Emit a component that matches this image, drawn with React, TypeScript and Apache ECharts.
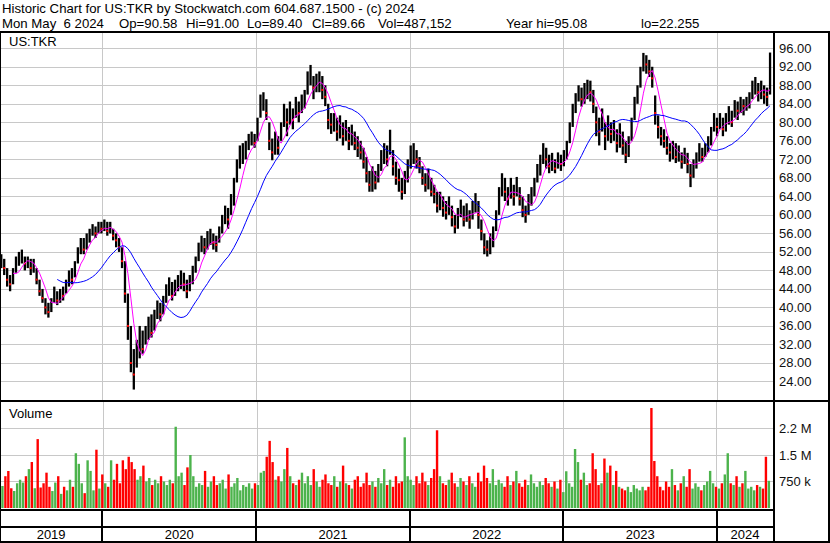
import React, { useEffect, useRef } from 'react';
import * as echarts from 'echarts';

// ---- texts ----
const TITLE_1 = 'Historic Chart for US:TKR by Stockwatch.com 604.687.1500 - (c) 2024';
const TITLE_2_FIELDS = ['Mon May \u00a06 2024', 'Op=90.58', 'Hi=91.00', 'Lo=89.40', 'Cl=89.66', 'Vol=487,152', 'Year hi=95.08', 'lo=22.255'];
const SYMBOL = 'US:TKR';
const VOLUME_TITLE = 'Volume';

// ---- time frame ----
const FIRST_WEEK = '2019-05-06';
const AXIS_START = '2019-05-03';
const AXIS_END = '2024-05-13';
const yearLabels = ['2019', '2020', '2021', '2022', '2023', '2024'];
const yearBounds = ['2019-01-01', '2020-01-01', '2021-01-01', '2022-01-01', '2023-01-01', '2024-01-01', '2025-01-01'];
const volumeTickLabels: Record<number, string> = { 750: '750 k', 1500: '1.5 M', 2250: '2.2 M' };

// ---- weekly prices ----
const weeklyClose = [
  // 2019
  50.0, 48.5, 46.0, 45.0, 47.5, 49.5, 50.5, 51.0, 49.5, 50.0, 48.5, 49.0, 46.0, 43.5, 42.0, 40.0, 39.0, 41.0, 43.0, 41.5,
  43.0, 42.5, 44.5, 47.0, 46.0, 49.0, 51.5, 53.5, 52.5, 54.5, 55.5, 57.0, 56.0, 57.5,
  // 2020
  57.0, 58.0, 56.5, 57.5, 55.5, 54.5, 53.0, 50.0, 43.0, 36.0, 28.0, 25.5, 30.0, 33.5, 31.0, 34.0, 36.5, 34.5, 37.5, 40.0,
  38.5, 41.0, 43.5, 45.0, 42.5, 44.5, 45.5, 46.5, 45.0, 43.5, 45.5, 47.0, 49.5, 52.0, 54.0, 53.0, 54.5, 55.5, 54.0, 53.5,
  56.0, 58.0, 60.0, 59.0, 61.5, 66.0, 70.0, 72.0, 73.0, 74.0, 75.5, 76.5, 75.5,
  // 2021
  79.0, 84.0, 85.0, 82.0, 76.0, 73.5, 75.5, 74.5, 78.0, 81.5, 80.0, 82.5, 80.5, 83.0, 82.0, 84.5, 85.0, 88.5, 90.0, 87.5,
  88.5, 89.0, 87.0, 85.5, 80.5, 79.5, 80.5, 78.0, 79.0, 77.0, 78.5, 76.0, 77.0, 75.5, 74.5, 73.5, 71.5, 69.0, 66.5, 68.5,
  67.0, 69.5, 72.0, 73.5, 72.0, 76.0, 70.5, 68.0, 67.5, 65.0, 67.5, 70.0, 72.5,
  // 2022
  74.0, 72.0, 70.5, 68.0, 66.5, 67.5, 65.0, 64.5, 62.0, 63.0, 61.5, 60.5, 62.0, 59.5, 57.5, 60.0, 61.5, 59.0, 60.5, 59.0,
  61.0, 62.5, 60.0, 56.5, 53.0, 52.5, 54.0, 56.0, 59.0, 64.0, 66.5, 65.0, 63.5, 65.5, 64.0, 66.0, 63.5, 61.0, 60.0, 62.5,
  64.0, 66.0, 69.0, 71.0, 73.5, 72.0, 70.5, 71.5, 70.0, 72.0, 71.0, 72.5,
  // 2023
  74.5, 78.0, 82.0, 84.5, 86.5, 85.0, 86.0, 87.5, 86.5, 84.0, 80.0, 78.0, 80.5, 77.0, 79.0, 77.5, 78.5, 75.5, 77.0, 75.0,
  73.0, 75.0, 79.0, 83.5, 86.0, 90.0, 93.0, 92.5, 91.0, 89.5, 82.0, 79.0, 77.0, 76.0, 74.5, 73.5, 74.5, 72.5, 73.0, 71.5,
  73.0, 71.0, 68.5, 70.5, 72.0, 73.5, 72.5, 74.0, 75.5, 77.0, 80.0, 79.0,
  // 2024
  81.0, 78.5, 80.0, 81.5, 80.0, 83.0, 82.5, 84.0, 83.5, 84.0, 85.0, 87.0, 88.0, 86.5, 87.5, 86.0, 85.5, 89.66,
];

const weeklyHigh = [
  51.5, 50.5, 48.5, 47, 48.5, 51, 52, 52.5, 51, 51, 50.5, 50.5, 48.5, 46, 44, 42, 41, 42, 44.5, 43.5,
  44, 44.5, 46, 48, 48.5, 50, 53, 55, 55, 56, 57, 58, 57.5, 58.5,
  58.5, 59, 58.5, 58.5, 57, 56, 55, 53, 50, 43, 36, 31, 33, 36, 35, 36, 38, 38.5, 39.5, 41.5,
  41, 42.5, 45, 46.5, 45.5, 46, 47, 48, 47.5, 46, 47, 49, 51, 54, 55.5, 55, 56.5, 57, 56, 55.5,
  57.5, 60, 62, 61.5, 64.5, 68, 72, 75, 75.5, 76, 77.5, 78, 77.5,
  81, 86, 86.5, 85, 80, 76.5, 78, 77, 80, 84, 83, 84.5, 83, 85.5, 84.5, 86, 87, 91, 92.4, 90,
  90.5, 91, 90, 88, 84, 82, 82, 81, 81.5, 80, 80.5, 79, 79.5, 78, 77, 76, 74.5, 72.5, 69.5, 70.5,
  69.5, 71, 74, 75.5, 75, 78.4, 74, 71.5, 70, 68, 69.5, 72, 75,
  75.5, 74, 72.5, 70.5, 69, 70, 68, 66.5, 65, 65, 64, 63, 64, 62, 60, 61.5, 63.3, 62, 62.5, 61,
  63, 64.7, 63, 59, 56, 54.5, 56, 57.5, 61, 66, 69, 68, 66, 68, 66.5, 68.2, 66, 64, 62, 64.5,
  66, 68, 71, 73, 75.5, 74.5, 73, 73.4, 72, 73.5, 73, 74,
  76, 80, 84, 86.3, 88, 87.5, 88.5, 89.2, 89, 87, 83.4, 81, 83, 80, 81.5, 80, 80.5, 78.5, 79.8, 78,
  76, 77, 81, 85.5, 88, 92, 95, 94.5, 93.5, 92, 85.8, 81.5, 79, 78.5, 77, 75.5, 76, 75.5, 75, 73.5,
  74.5, 73.4, 71, 72, 73.5, 75.5, 74.5, 75.5, 77, 79, 82, 81,
  82, 81, 82, 83.5, 82.5, 84.8, 84.5, 85.5, 85, 85.5, 86.5, 89, 89.8, 88.5, 89, 88, 87.5, 95.08,
];

const weeklyLow = [
  48.5, 47, 44.5, 43.5, 45, 47.5, 49, 49.5, 48, 48.5, 47, 47.5, 45, 42.5, 41, 38.5, 37.8, 39, 41, 40.5,
  41, 41.5, 43, 44.5, 45, 46.5, 49.5, 51.5, 51.5, 52.5, 54, 55.5, 55, 56,
  56, 56.5, 55.5, 56, 54.5, 53, 52, 48.5, 41, 33, 26, 22.255, 27, 29, 30, 32, 33, 33.5, 35, 37.5,
  37, 38.5, 41, 42.5, 41.5, 42.5, 43.5, 44, 43.5, 42, 43.5, 45, 47.5, 50, 52, 51.5, 52.5, 53.5, 52.5, 52,
  54, 56, 58, 57, 60, 62, 67, 70, 71, 72, 74, 75, 74.5,
  76, 81, 82.5, 80.5, 74, 71.8, 73, 73, 76, 79, 77, 79.5, 78.5, 81, 80, 82, 83, 86, 88, 85,
  86.5, 86.5, 85, 83.5, 78.5, 77.5, 78, 76, 76.5, 75, 76, 74, 75, 74, 72.5, 72, 70, 67, 65, 65,
  65.5, 67, 69.5, 71, 70.5, 73, 68.5, 66.5, 65, 63.3, 64.5, 67, 70,
  71, 70, 69, 66.5, 65, 65.5, 64, 62.5, 60.5, 61, 59.6, 59, 60, 57.5, 56, 57, 59.5, 57.5, 58.5, 57,
  59, 60.5, 57, 54.5, 51.5, 51, 51.5, 53, 56.5, 60, 64, 63, 62, 63.5, 62, 64, 62, 59.5, 58.3, 60,
  62, 64, 67, 68.5, 71, 70, 69, 69.5, 69, 70, 69.5, 70.5,
  72, 75.5, 79, 82, 84.5, 83.4, 84, 85, 84.5, 82, 77, 75, 78, 74, 76, 75.5, 76, 73.5, 74.5, 73,
  71.2, 72.5, 76, 80.5, 84, 87.5, 91, 90.5, 89.8, 87.5, 79.5, 76.5, 75, 74.5, 73, 71.5, 72, 71.2, 71.5, 70,
  71, 69, 66, 68, 70, 71.5, 71.5, 72.5, 73.5, 75, 78, 77,
  78.5, 77, 78, 79.5, 79, 81, 80.5, 82, 81.5, 82.5, 83, 85, 86, 84.5, 85, 84, 83.5, 86,
];

// ---- weekly volume, thousands ----
const volume2019 = [620, 900, 1050, 560, 480, 700, 800, 720, 900, 1100, 1300, 560, 1950, 580, 700, 1000, 600, 480, 720, 900, 400, 600, 500, 800, 600, 1550, 1250, 700, 420, 1350, 1050, 500, 1650, 550];
const volume2020 = [950, 700, 600, 1350, 800, 1250, 700, 1350, 1100, 1450, 1300, 1100, 800, 900, 1200, 750, 850, 650, 800, 700, 900, 750, 650, 800, 700, 2300, 900, 1000, 650, 1150, 1500, 900, 600, 700, 650, 1050, 600, 750, 900, 650, 700, 800, 550, 950, 600, 700, 850, 500, 650, 600, 700, 550];
const volume2021 = [700, 650, 1000, 1050, 1450, 1900, 1300, 800, 900, 750, 1100, 1700, 900, 700, 650, 800, 1000, 700, 900, 650, 1100, 750, 600, 800, 950, 700, 650, 900, 600, 750, 1200, 700, 650, 550, 800, 900, 600, 700, 1000, 650, 750, 600, 850, 700, 1100, 650, 800, 600, 900, 700, 750, 2000, 900];
const volume2022 = [800, 650, 900, 700, 1000, 750, 650, 850, 1100, 2200, 900, 700, 650, 800, 1000, 700, 600, 850, 750, 650, 900, 700, 600, 1000, 750, 1200, 850, 700, 1100, 650, 800, 700, 600, 900, 650, 750, 1050, 700, 600, 800, 650, 950, 700, 600, 750, 650, 850, 700, 600, 750, 550, 800];
const volume2023 = [450, 1040, 700, 600, 1670, 1300, 800, 1000, 650, 700, 1550, 1100, 650, 700, 1400, 1000, 1200, 650, 1050, 600, 550, 500, 600, 450, 650, 550, 500, 600, 500, 600, 2830, 1330, 900, 600, 500, 750, 600, 1100, 650, 500, 700, 900, 600, 1100, 550, 700, 600, 500, 650, 750, 1050, 700];
const volume2024 = [600, 550, 700, 950, 1550, 700, 650, 900, 600, 700, 1050, 550, 600, 500, 650, 600, 550, 1450, 770];

const FONT = '"Liberation Sans", Arial, Helvetica, sans-serif';
const DAY = 86400000;
const ts = (s: string) => new Date(s + 'T00:00:00Z').getTime();

function sma(values: number[], n: number, dates: number[]) {
  const out: [number, number][] = [];
  for (let i = n - 1; i < values.length; i++) {
    let s = 0;
    for (let k = i - n + 1; k <= i; k++) s += values[k];
    out.push([dates[i], s / n]);
  }
  return out;
}

function buildOption() {
  const tMin = ts(AXIS_START);
  const tMax = ts(AXIS_END);
  const t0 = ts(FIRST_WEEK);
  const dates = weeklyClose.map((_, i) => t0 + i * 7 * DAY);
  const volumes = [...volume2019, ...volume2020, ...volume2021, ...volume2022, ...volume2023, ...volume2024];
  const bounds = yearBounds.map(ts);

  const ohlc = weeklyClose.map((c, i) => [dates[i], c, weeklyHigh[i], weeklyLow[i], i > 0 && c < weeklyClose[i - 1] ? 1 : 0]);
  const volData = volumes.map((v, i) => ({
    value: [dates[i], v],
    itemStyle: { color: i > 0 && weeklyClose[i] < weeklyClose[i - 1] ? '#ff0000' : '#4cb34c' },
  }));

  const gridLineSeries = (idx: number) => ({
    type: 'custom',
    xAxisIndex: idx,
    yAxisIndex: idx,
    silent: true,
    z: 1,
    clip: false,
    data: bounds.slice(1, 6).map((b) => [b]),
    renderItem: (params: any, api: any) => {
      const cs = params.coordSys;
      const x = Math.round(api.coord([api.value(0), 0])[0]) + 0.5;
      return {
        type: 'line',
        shape: { x1: x, y1: cs.y, x2: x, y2: cs.y + cs.height },
        style: { stroke: '#c8c8c8', lineWidth: 1 },
      };
    },
  });

  const frame = (x: number, y: number, w: number, h: number) => ({
    type: 'rect', shape: { x, y, width: w, height: h }, style: { fill: '#000' }, z: 100, silent: true,
  });
  const label = (text: string, x: number, y: number, size = 13) => ({
    type: 'text', x, y, z: 100, silent: true,
    style: { text, fontSize: size, lineHeight: 13, fontFamily: FONT, fill: '#000', verticalAlign: 'middle', align: 'left' },
  });
  const fieldX = [2, 119, 186, 247, 312, 378, 506, 641];

  return {
    animation: false,
    backgroundColor: '#ffffff',
    grid: [
      { left: 0, top: 33, width: 773, height: 367 },
      { left: 0, top: 402, width: 773, height: 106 },
      { left: 0, top: 510, width: 773, height: 32 },
    ],
    xAxis: [0, 1, 2].map((i) => ({ type: 'time', gridIndex: i, min: tMin, max: tMax, show: false })),
    yAxis: [
      {
        type: 'value', gridIndex: 0, position: 'right', min: 20, max: 99.3, interval: 4,
        axisLine: { show: false }, axisTick: { show: false },
        splitLine: { show: true, showMinLine: false, showMaxLine: false, lineStyle: { color: '#c8c8c8', width: 1 } },
        axisLabel: {
          margin: 6, fontSize: 13, fontFamily: FONT, color: '#111',
          showMinLabel: false, showMaxLabel: false,
          formatter: (v: number) => (v >= 24 && v <= 96 ? v.toFixed(2) : ''),
        },
      },
      {
        type: 'value', gridIndex: 1, position: 'right', min: 0, max: 3000, interval: 750,
        axisLine: { show: false }, axisTick: { show: false },
        splitLine: { show: true, showMinLine: false, showMaxLine: false, lineStyle: { color: '#c8c8c8', width: 1 } },
        axisLabel: {
          margin: 6, fontSize: 13, fontFamily: FONT, color: '#111',
          formatter: (v: number) => volumeTickLabels[v] ?? '',
        },
      },
      { type: 'value', gridIndex: 2, min: 0, max: 1, show: false },
    ],
    series: [
      gridLineSeries(0),
      {
        type: 'custom',
        name: 'Price',
        xAxisIndex: 0,
        yAxisIndex: 0,
        z: 3,
        clip: true,
        encode: { x: 0, y: [1, 2, 3] },
        data: ohlc,
        renderItem: (params: any, api: any) => {
          const t = api.value(0);
          const hi = api.coord([t, api.value(2)]);
          const lo = api.coord([t, api.value(3)]);
          const cl = api.coord([t, api.value(1)]);
          const children: any[] = [
            { type: 'line', shape: { x1: hi[0], y1: hi[1], x2: lo[0], y2: lo[1] }, style: { stroke: '#000', lineWidth: 2.3 } },
          ];
          if (api.value(4)) {
            children.push({ type: 'rect', shape: { x: cl[0] - 1, y: cl[1] - 1, width: 2, height: 2 }, style: { fill: '#ff0000' } });
          }
          return { type: 'group', children };
        },
      },
      {
        type: 'line', name: 'MA short', xAxisIndex: 0, yAxisIndex: 0, z: 4,
        data: sma(weeklyClose, 5, dates), showSymbol: false, symbol: 'none',
        lineStyle: { color: '#ff00ff', width: 1 },
      },
      {
        type: 'line', name: 'MA long', xAxisIndex: 0, yAxisIndex: 0, z: 4,
        data: sma(weeklyClose, 20, dates), showSymbol: false, symbol: 'none',
        lineStyle: { color: '#0000ff', width: 1 },
      },
      gridLineSeries(1),
      {
        type: 'bar', name: 'Volume', xAxisIndex: 1, yAxisIndex: 1, z: 3,
        barWidth: 2.4, data: volData,
      },
      {
        type: 'custom',
        xAxisIndex: 2,
        yAxisIndex: 2,
        silent: true,
        clip: false,
        z: 5,
        data: yearLabels.map((_, i) => [bounds[i]]),
        renderItem: (params: any, api: any) => {
          const i = params.dataIndex;
          const cs = params.coordSys;
          const x1 = api.coord([Math.max(bounds[i], tMin), 0.5])[0];
          const x2 = api.coord([Math.min(bounds[i + 1], tMax), 0.5])[0];
          const children: any[] = [
            {
              type: 'text',
              style: {
                text: yearLabels[i], x: (x1 + x2) / 2, y: cs.y + cs.height - 8,
                align: 'center', verticalAlign: 'middle', fontSize: 13, fontFamily: FONT, fill: '#000',
              },
            },
          ];
          if (i > 0) {
            children.push({ type: 'rect', shape: { x: Math.round(x1) - 1, y: cs.y, width: 2, height: cs.height }, style: { fill: '#000' } });
          }
          return { type: 'group', children };
        },
      },
    ],
    graphic: [
      label(TITLE_1, 2, 8.3, 13.2),
      ...TITLE_2_FIELDS.map((f, i) => label(f, fieldX[i], 23.7, 13.2)),
      label(SYMBOL, 9, 41.5),
      label(VOLUME_TITLE, 9, 413),
      frame(0, 31, 830, 2),
      frame(0, 31, 1, 512),
      frame(828, 31, 2, 512),
      frame(773, 31, 2, 512),
      frame(0, 400, 830, 2),
      frame(0, 509, 775, 2),
      frame(0, 526, 775, 2),
      frame(0, 541, 830, 2),
    ],
  };
}

export default function App() {
  const ref = useRef<HTMLDivElement>(null);
  useEffect(() => {
    if (!ref.current) return;
    const chart = echarts.init(ref.current, undefined, { renderer: 'svg' });
    chart.setOption(buildOption() as any);
    return () => chart.dispose();
  }, []);
  return (
    <div
      ref={ref}
      style={{ position: 'fixed', left: 0, top: 0, width: 830, height: 543, background: '#fff' }}
    />
  );
}
